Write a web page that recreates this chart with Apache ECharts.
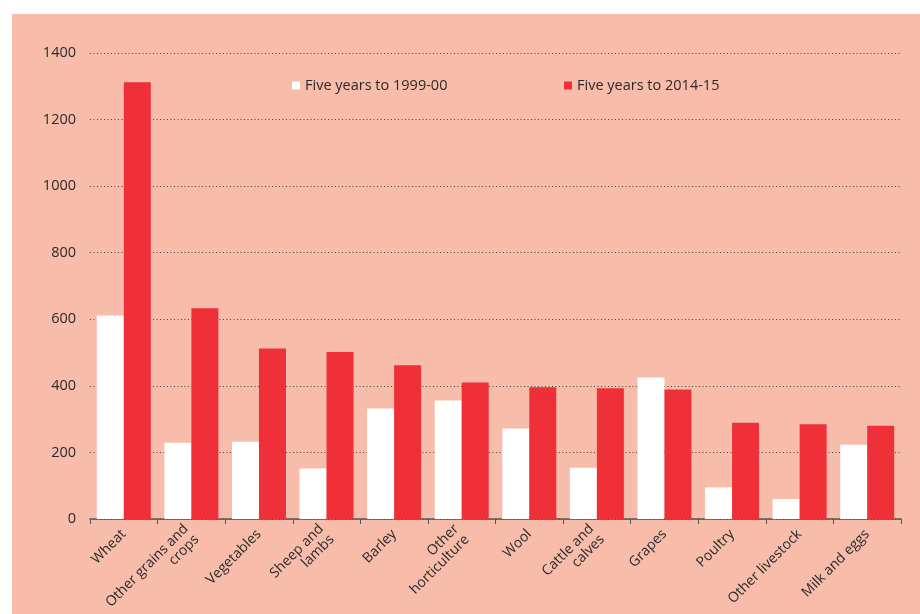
<!DOCTYPE html>
<html>
<head>
<meta charset="utf-8">
<script src="https://cdn.jsdelivr.net/npm/echarts@6/dist/echarts.min.js"></script>
<style>html,body{margin:0;padding:0;background:#fff}#c{width:920px;height:614px}</style>
</head>
<body>
<div id="c"></div>
<script>
const categories = ["Wheat", "Other grains and\ncrops", "Vegetables", "Sheep and\nlambs", "Barley", "Other\nhorticulture", "Wool", "Cattle and\ncalves", "Grapes", "Poultry", "Other livestock", "Milk and eggs"];
const seriesNames = ["Five years to 1999-00", "Five years to 2014-15"];
const values1999 = [611, 229, 232, 152, 332, 356, 272, 154, 425, 95, 60, 223];
const values2014 = [1312, 633, 512, 502, 462, 410, 396, 393, 389, 289, 285, 280];
const yTicks = [0, 200, 400, 600, 800, 1000, 1200, 1400];

const chart = echarts.init(document.getElementById('c'), null, {renderer: 'canvas'});
const font = '"Open Sans", "Noto Sans", sans-serif';
chart.setOption({
  backgroundColor: '#ffffff',
  animation: false,
  graphic: [{type: 'rect', z: -10, shape: {x: 12, y: 14, width: 908, height: 600}, style: {fill: '#F8BCAA'}}],
  legend: [
    {data: [seriesNames[0]], left: 292, top: 78, padding: 0, icon: 'rect', itemWidth: 8, itemHeight: 8, itemGap: 4,
     textStyle: {fontFamily: font, fontSize: 14.5, color: '#2b2b2b'}},
    {data: [seriesNames[1]], left: 564, top: 78, padding: 0, icon: 'rect', itemWidth: 8, itemHeight: 8, itemGap: 4,
     textStyle: {fontFamily: font, fontSize: 14.5, color: '#2b2b2b'}}
  ],
  grid: {left: 90, right: 19, top: 53, bottom: 95, containLabel: false, outerBoundsMode: 'none'},
  xAxis: {
    type: 'category', data: categories,
    axisLine: {lineStyle: {color: '#555', width: 1.5}},
    axisTick: {show: true, length: 5, lineStyle: {color: '#555'}, alignWithLabel: false},
    axisLabel: {rotate: 45, interval: 0, margin: 13, fontFamily: font, fontSize: 14, color: '#2b2b2b', lineHeight: 15}
  },
  yAxis: {
    type: 'value', min: 0, max: 1400, interval: 200,
    axisLine: {show: false}, axisTick: {show: false},
    axisLabel: {margin: 14, fontFamily: font, fontSize: 14.5, color: '#2b2b2b',
      formatter: v => yTicks.includes(v) ? String(v) : ''},
    splitLine: {lineStyle: {color: '#444', type: [1, 2.5], width: 1}}
  },
  series: [
    {name: seriesNames[0], type: 'bar', data: values1999, barWidth: 27, barGap: '0%',
     itemStyle: {color: '#ffffff'}},
    {name: seriesNames[1], type: 'bar', data: values2014, barWidth: 27, barGap: '0%',
     itemStyle: {color: '#EF3038'}}
  ]
});
</script>
</body>
</html>
